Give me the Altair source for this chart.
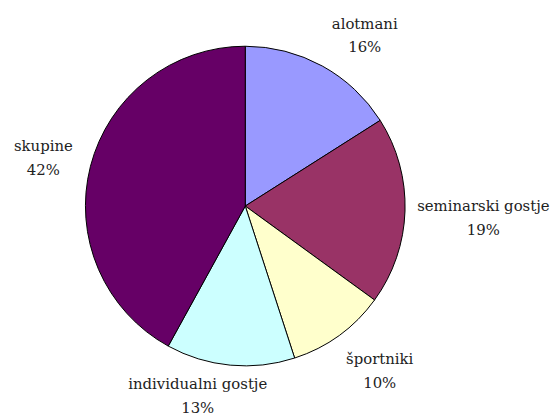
import math
import altair as alt
import pandas as pd

categories = ["alotmani", "seminarski gostje", "športniki", "individualni gostje", "skupine"]
shares = [16, 19, 10, 13, 42]
colors = ["#9999FF", "#993366", "#FFFFCC", "#CCFFFF", "#660066"]

df = pd.DataFrame({
    "kategorija": categories,
    "delez": shares,
    "vrstni_red": list(range(len(categories))),
})

pie = alt.Chart(df).mark_arc(radius=161, stroke="black", strokeWidth=1).encode(
    theta=alt.Theta("delez:Q", stack=True),
    order=alt.Order("vrstni_red:Q"),
    color=alt.Color("kategorija:N", scale=alt.Scale(domain=categories, range=colors), legend=None),
)

FONT = "DejaVu Serif"


def label_layer(cat, radius, dx=0, dy=0):
    return (
        alt.Chart(df)
        .transform_joinaggregate(total="sum(delez)")
        .transform_window(cum="sum(delez)", sort=[alt.SortField("vrstni_red", order="ascending")], frame=[None, 0])
        .transform_calculate(
            mid="(datum.cum - datum.delez / 2) / datum.total",
            label="datum.kategorija + '\\n' + datum.delez + '%'",
        )
        .transform_filter(alt.datum.kategorija == cat)
        .mark_text(
            radius=radius, dx=dx, dy=dy - 11.5, align="center", baseline="middle",
            lineBreak="\n", lineHeight=24, font=FONT, fontSize=15, color="#222222",
        )
        .encode(
            theta=alt.Theta("mid:Q", scale=alt.Scale(domain=[0, 1], range=[0, 2 * math.pi]), stack=None),
            text="label:N",
        )
    )


labels = [
    label_layer("alotmani", 200, dx=24, dy=3),
    label_layer("seminarski gostje", 245, dx=-5, dy=4),
    label_layer("športniki", 210, dx=12, dy=-4),
    label_layer("individualni gostje", 190, dx=-30, dy=2),
    label_layer("skupine", 210, dx=0, dy=3),
]

chart = alt.layer(pie, *labels).resolve_scale(theta="independent").properties(
    width=474,
    height=396,
    autosize=alt.AutoSizeParams(type="none"),
    padding={"left": 2, "top": 0, "right": 72, "bottom": 12},
    background="white",
).configure_view(stroke=None)

chart.save("out.html", embed_options={"renderer": "svg", "actions": False})
